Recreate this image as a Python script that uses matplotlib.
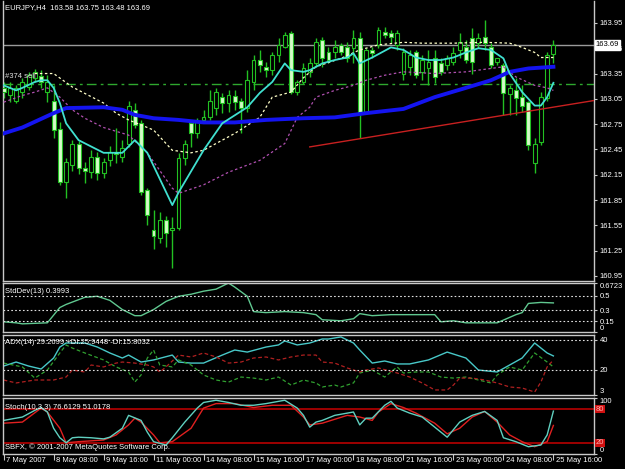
import matplotlib.pyplot as plt
import matplotlib.transforms as mtransforms

# ---- data (EURJPY H4, 7-25 May 2007) ----
opens = [163.18, 163.09, 163.03, 163.13, 163.19, 163.30, 163.32, 163.13, 163.03, 162.69,
         162.06, 162.26, 162.52, 162.23, 162.18, 162.36, 162.17, 162.32, 162.42, 162.36,
         162.52, 162.92, 162.76, 161.97, 161.49, 161.40, 161.61, 161.49, 161.52, 162.35,
         162.76, 162.64, 162.80, 162.83, 162.94, 163.07, 163.00, 163.08, 163.03, 162.94,
         163.25, 163.51, 163.43, 163.39, 163.57, 163.66, 163.83, 163.13, 163.25, 163.37,
         163.47, 163.75, 163.60, 163.60, 163.69, 163.66, 163.65, 163.77, 162.89, 163.63,
         163.69, 163.84, 163.83, 163.69, 163.35, 163.43, 163.60, 163.37, 163.41, 163.53,
         163.47, 163.45, 163.49, 163.63, 163.66, 163.77, 163.71, 163.78, 163.66, 163.49,
         163.45, 163.11, 163.15, 163.07, 163.01, 162.29, 162.54, 163.06, 163.58]
highs = [163.25, 163.25, 163.21, 163.30, 163.37, 163.40, 163.39, 163.33, 163.21, 162.77,
         162.35, 162.56, 162.55, 162.30, 162.44, 162.42, 162.35, 162.49, 162.71, 162.56,
         163.03, 163.00, 162.80, 161.99, 161.73, 161.71, 161.66, 161.65, 162.41, 162.56,
         162.80, 162.82, 162.92, 163.15, 163.18, 163.12, 163.15, 163.15, 163.06, 163.39,
         163.57, 163.63, 163.49, 163.60, 163.77, 163.84, 163.85, 163.27, 163.47, 163.53,
         163.77, 163.78, 163.66, 163.75, 163.71, 163.72, 163.87, 163.84, 163.65, 163.66,
         163.90, 163.90, 163.87, 163.87, 163.65, 163.63, 163.63, 163.57, 163.63, 163.63,
         163.53, 163.57, 163.66, 163.83, 163.75, 163.89, 163.83, 163.98, 163.71, 163.54,
         163.47, 163.21, 163.30, 163.21, 163.03, 162.58, 163.13, 163.60, 163.75]
lows = [163.06, 163.01, 163.00, 163.06, 163.15, 163.25, 163.18, 163.01, 162.58, 162.03,
        161.87, 162.20, 162.16, 162.05, 162.11, 162.09, 162.11, 162.25, 162.29, 162.30,
        162.48, 162.70, 161.91, 161.55, 161.27, 161.34, 161.29, 161.04, 161.49, 162.26,
        162.48, 162.58, 162.76, 162.80, 162.86, 162.88, 162.89, 162.92, 162.64, 162.89,
        163.15, 163.37, 163.31, 163.33, 163.49, 163.65, 163.11, 163.09, 163.22, 163.31,
        163.43, 163.43, 163.47, 163.54, 163.57, 163.49, 163.47, 162.58, 162.88, 163.54,
        163.65, 163.77, 163.71, 163.63, 163.27, 163.33, 163.30, 163.27, 163.21, 163.24,
        163.33, 163.39, 163.45, 163.53, 163.47, 163.35, 163.65, 163.63, 163.41, 163.45,
        162.86, 162.86, 162.86, 162.89, 162.44, 162.17, 162.50, 163.03, 163.48]
closes = [163.13, 163.18, 163.18, 163.25, 163.33, 163.37, 163.25, 163.25, 162.68, 162.06,
          162.30, 162.52, 162.23, 162.20, 162.36, 162.17, 162.30, 162.42, 162.39, 162.47,
          162.97, 162.74, 161.94, 161.67, 161.42, 161.61, 161.46, 161.52, 162.35, 162.52,
          162.64, 162.77, 162.83, 163.03, 163.13, 163.00, 163.09, 163.01, 162.94, 163.27,
          163.51, 163.45, 163.39, 163.57, 163.69, 163.81, 163.13, 163.25, 163.41, 163.47,
          163.72, 163.54, 163.51, 163.66, 163.60, 163.54, 163.77, 162.89, 163.63, 163.59,
          163.87, 163.81, 163.78, 163.83, 163.60, 163.57, 163.33, 163.51, 163.49, 163.31,
          163.37, 163.53, 163.59, 163.72, 163.51, 163.49, 163.77, 163.71, 163.45, 163.53,
          163.12, 163.18, 163.06, 162.97, 162.50, 162.52, 163.07, 163.57, 163.69]

time_labels = ["7 May 2007", "8 May 08:00", "9 May 16:00", "11 May 00:00", "14 May 08:00",
               "15 May 16:00", "17 May 00:00", "18 May 08:00", "21 May 16:00", "23 May 00:00",
               "24 May 08:00", "25 May 16:00"]

# moving averages (bar index, price)
fast_x = [0, 2, 3, 5, 6, 7, 8, 9, 10, 12, 16, 19, 21, 23, 27, 28, 32, 35, 39, 41, 43, 45, 46,
          48, 49, 51, 53, 55, 56, 57, 59, 62, 64, 66, 68, 70, 72, 74, 76, 78, 80, 81, 83, 85,
          86, 87, 88]
fast_y = [163.21, 163.15, 163.18, 163.25, 163.27, 163.27, 163.18, 163.00, 162.76, 162.56,
          162.41, 162.41, 162.56, 162.41, 161.79, 161.94, 162.44, 162.76, 162.95, 163.12,
          163.25, 163.47, 163.39, 163.37, 163.39, 163.47, 163.51, 163.54, 163.59, 163.47,
          163.54, 163.66, 163.63, 163.54, 163.51, 163.51, 163.54, 163.60, 163.65, 163.63,
          163.53, 163.35, 163.13, 162.97, 162.97, 163.07, 163.24]
slow_x = [0, 3, 8, 10, 16, 19, 21, 24, 28, 32, 37, 42, 48, 53, 58, 64, 69, 74, 78, 81, 84, 88]
slow_y = [162.64, 162.71, 162.88, 162.94, 162.95, 162.92, 162.86, 162.82, 162.80, 162.77,
          162.77, 162.80, 162.82, 162.83, 162.88, 162.93, 163.07, 163.18, 163.27, 163.37,
          163.41, 163.43]
mid_x = [5, 8, 11, 16, 18, 20, 24, 27, 30, 32, 37, 41, 43, 46, 48, 50, 54, 57, 60, 64, 67,
         72, 77, 81, 83, 85, 86, 88]
mid_y = [163.35, 163.35, 163.19, 163.00, 162.88, 162.80, 162.68, 162.44, 162.41, 162.44,
         162.64, 162.83, 163.07, 163.13, 163.30, 163.43, 163.53, 163.63, 163.69, 163.72,
         163.71, 163.71, 163.72, 163.71, 163.66, 163.60, 163.54, 163.54]
shift_x = [0, 3, 5, 7, 9, 11, 13, 16, 20, 23, 27, 28, 32, 36, 41, 45, 47, 49, 50, 53, 56,
           58, 61, 64, 69, 74, 78, 80, 82, 85, 87, 88]
shift_y = [163.01, 163.09, 163.13, 163.18, 163.07, 162.92, 162.82, 162.71, 162.62, 162.41,
           161.99, 161.93, 162.03, 162.18, 162.32, 162.52, 162.83, 162.95, 163.07, 163.15,
           163.21, 163.27, 163.33, 163.37, 163.35, 163.37, 163.41, 163.43, 163.31, 163.21,
           163.18, 163.15]
trend_x = [49, 94.5]
trend_y = [162.48, 163.03]
order_level = 163.23
bid = 163.69

# StdDev(13)
sd_x = [0, 2, 3, 7, 9, 10, 13, 15, 17, 19, 21, 22, 24, 26, 28, 30, 32, 34, 36, 37, 39, 40,
        42, 45, 48, 50, 51, 54, 56, 57, 59, 62, 69, 70, 72, 74, 79, 82, 83, 84, 86, 88]
sd_y = [0.14, 0.126, 0.112, 0.126, 0.336, 0.378, 0.476, 0.49, 0.434, 0.308, 0.224, 0.224,
        0.308, 0.42, 0.49, 0.518, 0.56, 0.588, 0.672, 0.616, 0.49, 0.28, 0.266, 0.28, 0.266,
        0.238, 0.168, 0.154, 0.182, 0.252, 0.224, 0.238, 0.238, 0.14, 0.154, 0.126, 0.126,
        0.238, 0.266, 0.392, 0.406, 0.399]

# ADX(14)
adx_x = [0, 2, 4, 6, 8, 9, 10, 13, 15, 17, 19, 20, 22, 24, 27, 28, 30, 32, 35, 37, 39, 42,
         44, 45, 47, 49, 51, 52, 54, 56, 57, 59, 61, 63, 65, 68, 71, 74, 76, 79, 81, 83, 85,
         87, 88]
adx_y = [22.5, 25.2, 22.5, 20.5, 27.9, 35.3, 38.0, 38.0, 35.3, 31.3, 27.9, 29.9, 25.2, 26.6,
         29.9, 25.2, 24.5, 24.5, 29.9, 33.3, 31.9, 35.3, 36.7, 39.4, 36.7, 38.0, 40.7, 40.7,
         42.1, 38.0, 33.3, 24.5, 25.9, 23.9, 23.9, 26.6, 31.9, 27.9, 19.8, 18.5, 23.2, 27.9,
         38.0, 31.3, 29.3]
pdi_x = [0, 3, 5, 7, 9, 10, 11, 13, 16, 18, 20, 21, 22, 23, 24, 25, 27, 28, 30, 32, 34, 36,
         38, 40, 42, 44, 46, 48, 50, 51, 53, 54, 56, 57, 59, 61, 63, 64, 66, 68, 70, 72, 74,
         76, 78, 79, 81, 83, 85, 87, 88]
pdi_y = [24.5, 21.9, 14.4, 19.8, 31.3, 36.7, 34.6, 31.3, 26.6, 21.9, 18.5, 11.7, 16.5, 27.9,
         33.3, 23.2, 21.9, 26.6, 23.2, 16.5, 13.1, 11.7, 15.1, 14.4, 13.1, 15.1, 9.7, 13.1,
         11.1, 8.4, 9.7, 8.4, 11.1, 17.8, 19.8, 15.1, 21.9, 17.8, 18.5, 18.5, 15.1, 14.4, 15.1,
         13.1, 11.1, 16.5, 21.9, 19.8, 31.3, 25.2, 21.9]
mdi_x = [0, 2, 5, 8, 10, 11, 13, 14, 16, 18, 19, 21, 23, 24, 25, 26, 28, 30, 32, 34, 36, 38,
         40, 42, 44, 46, 48, 50, 51, 53, 55, 57, 58, 60, 63, 65, 67, 69, 71, 72, 73, 75, 77,
         79, 81, 83, 85, 86, 87, 88]
mdi_y = [13.1, 11.1, 13.1, 13.1, 15.1, 19.8, 18.5, 23.2, 21.9, 24.5, 25.2, 24.5, 23.2, 21.9,
         18.5, 21.9, 29.9, 28.6, 31.3, 28.6, 24.5, 25.2, 27.9, 28.6, 26.6, 28.6, 29.9, 29.9,
         25.2, 24.5, 21.2, 18.5, 19.8, 21.2, 17.8, 15.1, 11.1, 6.4, 6.4, 9.7, 14.4, 14.4, 13.1,
         11.1, 8.4, 7.7, 5.0, 11.7, 21.9, 26.6]

# Stoch(10,3,3)
stk_x = [0, 2, 3, 5, 6, 7, 8, 9, 10, 11, 12, 14, 16, 17, 19, 20, 22, 23, 24, 26, 27, 29, 31,
         32, 34, 36, 38, 40, 42, 45, 47, 48, 49, 50, 51, 53, 55, 56, 57, 58, 59, 61, 62, 63,
         65, 67, 69, 71, 73, 75, 77, 79, 80, 82, 84, 86, 87, 88]
stk_y = [60, 64, 66, 78, 83, 75, 46, 29, 20, 29, 30, 29, 27, 30, 46, 69, 60, 39, 22, 16, 29,
         57, 82, 92, 96, 92, 87, 87, 90, 96, 82, 69, 48, 57, 60, 69, 73, 75, 52, 64, 64, 87,
         94, 82, 73, 66, 48, 30, 57, 69, 76, 60, 29, 22, 13, 16, 34, 76.6]
std_x = [0, 3, 6, 7, 9, 10, 12, 16, 18, 20, 21, 22, 24, 25, 27, 30, 32, 34, 37, 40, 43, 46,
         48, 49, 51, 53, 55, 57, 59, 60, 62, 64, 66, 69, 71, 73, 75, 77, 79, 81, 83, 85, 87, 88]
std_y = [55, 57, 82, 75, 46, 20, 22, 25, 34, 52, 64, 57, 34, 20, 22, 46, 82, 90, 90, 83, 87,
         87, 66, 52, 55, 62, 69, 66, 60, 75, 90, 83, 73, 55, 36, 46, 66, 76, 57, 34, 22, 13,
         22, 51]

# ---- figure ----
plt.rcParams['font.family'] = ['Liberation Sans', 'DejaVu Sans']
plt.rcParams['font.size'] = 5.5
fig = plt.figure(figsize=(6.25, 4.69), dpi=100, facecolor='black')
W, H = 625.0, 469.0
FS = 5.5


def panel(x0, y0, x1, y1):
    ax = fig.add_axes([x0 / W, 1 - y1 / H, (x1 - x0) / W, (y1 - y0) / H])
    ax.set_facecolor('black')
    for s in ax.spines.values():
        s.set_color('#c8c8c8')
        s.set_linewidth(1)
    ax.set_xlim(-0.1, 94.5)
    ax.yaxis.tick_right()
    ax.tick_params(axis='y', colors='#c8c8c8', labelcolor='white', length=2.5, width=0.8,
                   pad=1.5, labelsize=FS)
    ax.set_xticks([])
    return ax


def set_levels(ax, vals, labels, low_va='bottom', top_va='top'):
    ax.set_yticks(vals)
    ax.set_yticklabels(labels)
    tl = ax.get_yticklabels()
    tl[0].set_verticalalignment(low_va)
    tl[-1].set_verticalalignment(top_va)


ax = panel(3, 1, 594, 281)
ax.spines['top'].set_visible(False)
ax_sd = panel(3, 283, 594, 332)
ax_adx = panel(3, 335, 594, 395)
ax_st = panel(3, 398, 594, 454)

# candles
wick = '#22c022'
bear_fill = '#d4fcc8'
xs = list(range(len(opens)))
ax.vlines(xs, lows, highs, color=wick, lw=1, zorder=2)
bottoms = [min(o, c) for o, c in zip(opens, closes)]
heights = [max(abs(c - o), 0.006) for o, c in zip(opens, closes)]
faces = [bear_fill if c < o else 'black' for o, c in zip(opens, closes)]
ax.bar(xs, heights, 0.62, bottoms, color=faces, edgecolor=wick, linewidth=0.8, zorder=3)

ax.axhline(order_level, color='#2ea82e', lw=1, ls=(0, (7, 3, 2, 3)), zorder=1)
ax.text(0.3, order_level + 0.04, '#374 sell', color='#e0e0e0', fontsize=FS, va='bottom')
ax.axhline(bid, color='#9a9a9a', lw=1, zorder=1)
ax.plot(trend_x, trend_y, color='#c82020', lw=1, zorder=4)
ax.plot(shift_x, shift_y, color='#b050b0', lw=0.9, ls=(0, (2, 2)), zorder=4)
ax.plot(mid_x, mid_y, color='#ffffc8', lw=0.9, ls=(0, (2, 2)), zorder=4)
ax.plot(slow_x, slow_y, color='#1414f0', lw=2.8, zorder=5)
ax.plot(fast_x, fast_y, color='#40e0d0', lw=1.3, zorder=6)

ax.set_ylim(160.89, 164.21)
main_ticks = [160.95, 161.25, 161.55, 161.85, 162.15, 162.45, 162.75, 163.05, 163.35,
              163.65, 163.95]
ax.set_yticks(main_ticks)
ax.set_yticklabels(['%.2f' % t for t in main_ticks])
tr = mtransforms.blended_transform_factory(ax.transAxes, ax.transData)
ax.text(1.003, bid, '%.2f' % bid, transform=tr, color='black', fontsize=FS, va='center',
        ha='left', zorder=10, bbox=dict(facecolor='white', edgecolor='white', pad=0.8))
ax.text(0.004, 0.99, 'EURJPY,H4  163.58 163.75 163.48 163.69', transform=ax.transAxes,
        color='white', va='top', ha='left')

# StdDev
ax_sd.plot(sd_x, sd_y, color='#60c890', lw=1)
for lv in [0.5, 0.3, 0.15]:
    ax_sd.axhline(lv, color='#e0e0e0', lw=0.8, ls=(0, (1.5, 2)))
ax_sd.set_ylim(0, 0.6723)
set_levels(ax_sd, [0, 0.15, 0.3, 0.5, 0.6723], ['0', '0.15', '0.3', '0.5', '0.6723'])
ax_sd.text(0.004, 0.9, 'StdDev(13) 0.3993', transform=ax_sd.transAxes, color='white',
           va='top')

# ADX
ax_adx.plot(adx_x, adx_y, color='#48c8c8', lw=1)
ax_adx.plot(pdi_x, pdi_y, color='#30a030', lw=0.9, ls=(0, (3, 2)))
ax_adx.plot(mdi_x, mdi_y, color='#b02020', lw=0.9, ls=(0, (3, 2)))
for lv in [40, 20]:
    ax_adx.axhline(lv, color='#e0e0e0', lw=0.8, ls=(0, (1.5, 2)))
ax_adx.set_ylim(3, 43.4)
set_levels(ax_adx, [3, 20, 40], ['3', '20', '40'], top_va='center')
ax_adx.text(0.004, 0.93, 'ADX(14) 29.2699 +DI:25.9448 -DI:15.8032',
            transform=ax_adx.transAxes, color='white', va='top')

# Stochastic
ax_st.axhline(80, color='#b80000', lw=1.2)
ax_st.axhline(20, color='#b80000', lw=1.2)
ax_st.plot(std_x, std_y, color='#e02020', lw=1)
ax_st.plot(stk_x, stk_y, color='#60d0c0', lw=1)
ax_st.set_ylim(0, 100)
set_levels(ax_st, [0, 100], ['0', '100'])
trs = mtransforms.blended_transform_factory(ax_st.transAxes, ax_st.transData)
for lv in [80, 20]:
    ax_st.text(1.003, lv, str(lv), transform=trs, color='#ffb0b0', fontsize=FS,
               va='center', ha='left', bbox=dict(facecolor='#d01010', edgecolor='none', pad=0.4))
ax_st.text(0.004, 0.9, 'Stoch(10,3,3) 76.6129 51.0178', transform=ax_st.transAxes,
           color='white', va='top')
ax_st.text(0.004, 0.05, 'SBFX, \u00a9 2001-2007 MetaQuotes Software Corp.',
           transform=ax_st.transAxes, color='white', va='bottom')

# time axis
tick_pos = [8 * k for k in range(len(time_labels))]
ax_st.set_xticks(tick_pos)
ax_st.set_xticklabels([])
ax_st.tick_params(axis='x', colors='#c8c8c8', length=4, width=0.8, direction='out')
trx = mtransforms.blended_transform_factory(ax_st.transData, ax_st.transAxes)
for p, lab in zip(tick_pos, time_labels):
    ax_st.text(p + 0.4, -0.06, lab, transform=trx, color='white', ha='left', va='top',
               fontsize=FS)

fig.savefig('out.png', dpi=100, facecolor='black')
